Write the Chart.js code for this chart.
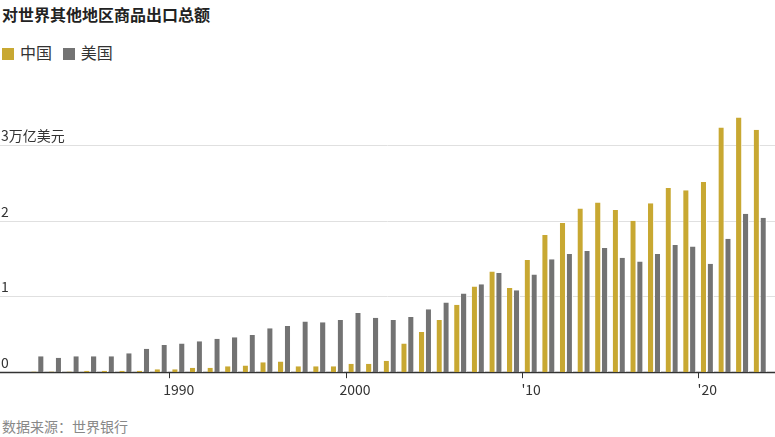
<!DOCTYPE html>
<html><head><meta charset="utf-8">
<script src="https://cdn.jsdelivr.net/npm/chart.js@4"></script>
<style>
body{margin:0;width:775px;height:437px;background:#fff;font-family:"Noto Sans CJK SC","Noto Sans",sans-serif;position:relative;overflow:hidden}
#t{position:absolute;left:2px;top:2px;font-size:16px;font-weight:bold;color:#222}
#lg{position:absolute;left:2px;top:40px;font-size:16px;color:#333}
#lg span.s{display:inline-block;width:12px;height:12px;vertical-align:-1px;margin-right:6px}
#src{position:absolute;left:2px;top:416px;font-size:14px;color:#888}
#wrap{position:absolute;left:0;top:100px;width:775px;height:301px}
</style></head><body>
<div id="t">对世界其他地区商品出口总额</div>
<div id="lg"><span class="s" style="background:#c8a832"></span>中国&nbsp;&nbsp;&nbsp;<span class="s" style="background:#737373"></span>美国</div>
<div id="wrap"><canvas id="c"></canvas></div>
<div id="src">数据来源：世界银行</div>
<script>
const years=[];for(let y=1982;y<=2023;y++)years.push(y);
const china=[0.01,0.01,0.01,0.02,0.02,0.02,0.02,0.04,0.04,0.06,0.06,0.08,0.09,0.13,0.14,0.08,0.08,0.08,0.11,0.11,
0.15,0.38,0.53,0.69,0.89,1.13,1.33,1.11,1.48,1.81,1.97,2.16,2.24,2.14,2.00,2.23,2.43,2.40,2.51,3.23,3.36,3.20];
const usa=[0.21,0.19,0.21,0.21,0.21,0.25,0.31,0.36,0.38,0.41,0.44,0.46,0.49,0.58,0.61,0.67,0.66,0.69,0.78,0.72,
0.69,0.73,0.83,0.92,1.04,1.16,1.31,1.08,1.29,1.49,1.56,1.60,1.64,1.51,1.46,1.56,1.68,1.66,1.43,1.76,2.09,2.04];
const yTicks=[0,1,2,3];
const yTickLabels=["0","1","2","3万亿美元"];
const xTickLabels={1990:"1990",2000:"2000",2010:"'10",2020:"'20"};
const grid={id:'g',beforeDatasetsDraw(ch){const c=ch.ctx,s=ch.scales.y;c.save();
 yTicks.forEach((v,i)=>{const p=Math.round(s.getPixelForValue(v))+0.5;c.strokeStyle=v===0?'#333':'#e0e0e0';c.lineWidth=v===0?1.5:1;
 c.beginPath();c.moveTo(0,p);c.lineTo(ch.width,p);c.stroke();
 c.fillStyle='#333';c.font='14px "Noto Sans CJK SC","Noto Sans",sans-serif';c.textBaseline='bottom';c.fillText(yTickLabels[i],1,p-3);});
 c.restore();}};
new Chart(document.getElementById('c'),{type:'bar',
data:{labels:years,datasets:[
{label:'中国',data:china,backgroundColor:'#c8a832',borderColor:'#fff',borderWidth:{right:1},borderSkipped:false},
{label:'美国',data:usa,backgroundColor:'#737373',borderColor:'#fff',borderWidth:{right:1},borderSkipped:false}]},
options:{responsive:true,maintainAspectRatio:false,animation:false,
layout:{padding:{left:29,right:6,top:7}},
categoryPercentage:0.78,barPercentage:0.9,
plugins:{legend:{display:false},tooltip:{enabled:false}},
scales:{y:{display:false,min:0,max:3.5},
x:{grid:{drawOnChartArea:false,tickLength:6,color:c=>xTickLabels[years[c.index]]?'#333':'rgba(0,0,0,0)'},border:{display:false},
ticks:{autoSkip:false,maxRotation:0,color:'#333',font:{size:14,family:'"Noto Sans CJK SC","Noto Sans",sans-serif'},
callback:(v,i)=>xTickLabels[years[i]]||''}}}},
plugins:[grid]});
</script></body></html>
